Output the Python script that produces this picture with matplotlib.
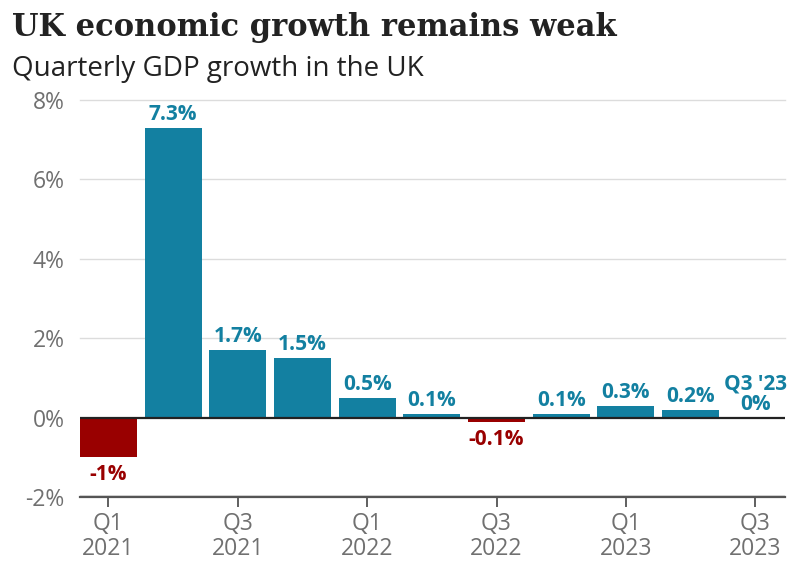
import matplotlib
matplotlib.use("Agg")
import matplotlib.pyplot as plt

quarters = ["Q1 2021", "Q2 2021", "Q3 2021", "Q4 2021", "Q1 2022", "Q2 2022",
            "Q3 2022", "Q4 2022", "Q1 2023", "Q2 2023", "Q3 2023"]
growth = [-1.0, 7.3, 1.7, 1.5, 0.5, 0.1, -0.1, 0.1, 0.3, 0.2, 0.0]
value_labels = ["-1%", "7.3%", "1.7%", "1.5%", "0.5%", "0.1%", "-0.1%", "0.1%",
                "0.3%", "0.2%", "Q3 '23\n0%"]
tick_idx = [0, 2, 4, 6, 8, 10]
tick_labels = ["Q1\n2021", "Q3\n2021", "Q1\n2022", "Q3\n2022", "Q1\n2023", "Q3\n2023"]
yticks = [-2, 0, 2, 4, 6, 8]
ytick_labels = ["-2%", "0%", "2%", "4%", "6%", "8%"]

BLUE = "#1380A1"
RED = "#990000"
SANS = ["Open Sans", "DejaVu Sans"]
GRAY = "#707070"

W, H = 808, 570
fig = plt.figure(figsize=(W / 100, H / 100), dpi=100)
ax_l, ax_r, ax_b, ax_t = 80, 785, 497, 100
ax = fig.add_axes([ax_l / W, (H - ax_b) / H, (ax_r - ax_l) / W, (ax_b - ax_t) / H])

x = list(range(len(quarters)))
colors = [RED if v < 0 else BLUE for v in growth]
ax.bar(x, growth, width=0.88, color=colors, zorder=3)

for s in ["top", "right", "left"]:
    ax.spines[s].set_visible(False)
ax.spines["bottom"].set_position(("data", -2))
ax.spines["bottom"].set_color("#555555")
ax.spines["bottom"].set_linewidth(1.6)

ax.set_xlim(-0.44, 10.46)
ax.set_ylim(-2, 8)
ax.set_yticks(yticks)
ax.set_yticklabels(ytick_labels, fontsize=16.5, color=GRAY, family=SANS)
ax.tick_params(axis="y", length=0, pad=11)
ax.set_xticks(tick_idx)
ax.set_xticklabels(tick_labels, fontsize=16.5, color=GRAY, family=SANS, linespacing=1.05)
ax.tick_params(axis="x", length=7, width=1.2, color="#444444", pad=4)

for yv in [2, 4, 6, 8]:
    ax.axhline(yv, color="#dcdcdc", lw=1, zorder=1, clip_on=False)
ax.axhline(-2, color="#dcdcdc", lw=3.5, zorder=1)
ax.axhline(0, color="#222222", lw=1.6, zorder=4)

for xi, v, lab in zip(x, growth, value_labels):
    col = RED if v < 0 else BLUE
    if v < 0:
        ax.annotate(lab, (xi, v), xytext=(0, -5), textcoords="offset points",
                    ha="center", va="top", fontsize=15, fontweight="bold",
                    color=col, family=SANS, zorder=5)
    else:
        ax.annotate(lab, (xi, v), xytext=(0, 2), textcoords="offset points",
                    ha="center", va="bottom", fontsize=15, fontweight="bold",
                    color=col, family=SANS, linespacing=0.95, zorder=5)

fig.text(12 / W, 1 - 36 / H, "UK economic growth remains weak", fontsize=22,
         fontweight="bold", family=["DejaVu Serif"], color="#222222",
         ha="left", va="baseline")
fig.text(12 / W, 1 - 76 / H, "Quarterly GDP growth in the UK", fontsize=20,
         family=SANS, color="#222222", ha="left", va="baseline")

fig.savefig("out.png", dpi=100, facecolor="white")
